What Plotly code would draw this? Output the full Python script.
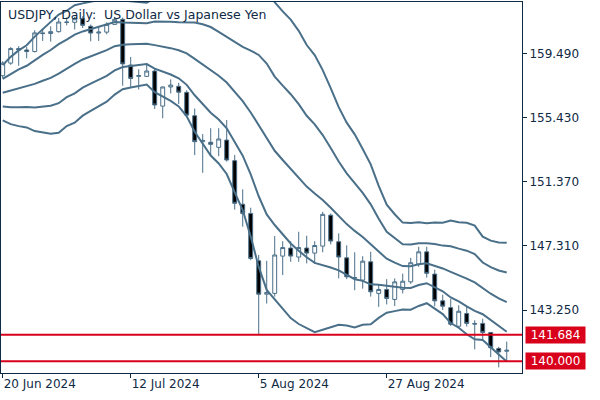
import numpy as np
import plotly.graph_objects as go

# ---- data (USDJPY daily) ----
dates = ["20 Jun 2024", "12 Jul 2024", "5 Aug 2024", "27 Aug 2024"]
date_idx = [0, 16, 32, 48]

# closes of the 19 sessions before 20 Jun 2024 (only feed the Bollinger bands)
prior_close = [156.98, 156.85, 157.18, 157.63, 156.80, 157.26, 156.10, 154.78, 156.10, 155.62,
               156.75, 157.05, 157.20, 156.69, 157.04, 157.39, 157.71, 157.86, 158.07]

opens = [158.07, 158.87, 159.79, 159.70, 159.60, 160.78, 160.74, 160.86, 161.47, 161.45,
         161.68, 161.20, 160.77, 160.83, 161.32, 161.64, 158.75, 158.03, 158.03, 158.37,
         156.15, 157.36, 157.40, 157.02, 155.54, 153.90, 153.86, 153.54, 154.00, 152.70,
         149.94, 149.36, 146.36, 144.25, 144.30, 146.66, 147.17, 146.60, 147.17, 146.85,
         147.29, 149.25, 147.57, 146.55, 145.30, 145.14, 146.30, 144.30, 144.55, 143.92,
         144.55, 145.03, 146.15, 146.93, 145.52, 143.83, 143.40, 142.22, 143.03, 142.40,
         142.40, 141.83, 140.81, 140.64]
highs = [158.99, 159.88, 159.94, 159.88, 160.95, 161.05, 161.20, 161.72, 161.75, 161.80,
         161.83, 161.31, 161.16, 161.45, 161.79, 161.75, 159.26, 158.48, 158.86, 158.50,
         157.38, 157.84, 157.63, 157.15, 156.00, 154.38, 154.75, 154.75, 155.27, 153.06,
         150.88, 149.72, 146.73, 146.36, 147.93, 147.60, 147.60, 148.20, 147.95, 147.60,
         149.46, 149.35, 148.10, 147.34, 146.90, 146.65, 146.93, 144.84, 145.20, 145.25,
         145.55, 146.55, 147.25, 147.25, 145.80, 144.22, 143.95, 143.55, 143.50, 142.60,
         142.70, 141.86, 140.92, 141.25]
lows = [157.90, 158.76, 158.70, 159.17, 159.55, 160.27, 160.23, 160.80, 161.26, 161.00,
        161.09, 160.25, 160.27, 160.69, 161.28, 157.44, 157.36, 157.20, 158.00, 155.97,
        155.38, 156.95, 156.28, 155.45, 153.05, 151.93, 153.05, 152.98, 152.64, 149.60,
        148.52, 146.40, 141.684, 143.66, 144.10, 145.46, 146.30, 146.30, 146.20, 146.17,
        146.90, 147.40, 145.25, 145.20, 144.50, 144.60, 144.10, 143.45, 143.60, 143.50,
        144.30, 144.90, 145.98, 145.30, 143.48, 143.25, 142.24, 142.12, 142.20, 140.76,
        141.40, 140.27, 139.62, 139.97]
closes = [158.87, 159.79, 159.70, 159.60, 160.78, 160.74, 160.86, 161.47, 161.45, 161.68,
          161.26, 160.77, 160.83, 161.32, 161.64, 158.82, 157.90, 158.08, 158.37, 156.22,
          157.36, 157.48, 157.03, 155.58, 153.90, 153.98, 153.73, 154.07, 152.74, 150.00,
          149.35, 146.51, 144.25, 144.36, 146.73, 147.20, 146.66, 147.20, 146.85, 147.33,
          149.30, 147.61, 146.60, 145.35, 145.27, 146.34, 144.40, 144.55, 143.98, 145.03,
          145.07, 146.24, 146.93, 145.57, 143.83, 143.49, 142.35, 143.17, 142.40, 142.36,
          141.83, 140.86, 140.60, 140.70]

levels = [141.684, 140.000]
ytick_vals = [143.250, 147.310, 151.370, 155.430, 159.490]
title_text = "USDJPY, Daily:  US Dollar vs Japanese Yen"

# ---- Bollinger bands (20, population std, +-1 and +-2) ----
period = 20
allc = np.array(prior_close + closes)
n = len(closes)
mid, sd = [], []
for i in range(n):
    w = allc[i: i + period]
    mid.append(w.mean())
    sd.append(w.std())
mid = np.array(mid)
sd = np.array(sd)
xs = np.arange(n)

NAVY = "#0f2a44"
STEEL = "#4a6f89"
RED = "#d8001a"
FONT = "DejaVu Sans"

fig = go.Figure()
for k in (2, 1, 0, -1, -2):
    fig.add_trace(go.Scatter(x=xs, y=mid + k * sd, mode="lines",
                             line=dict(color=STEEL, width=2), hoverinfo="skip",
                             showlegend=False))

fig.add_trace(go.Candlestick(
    x=xs, open=opens, high=highs, low=lows, close=closes,
    increasing=dict(line=dict(color=STEEL, width=1), fillcolor="white"),
    decreasing=dict(line=dict(color=STEEL, width=1), fillcolor="black"),
    whiskerwidth=0, showlegend=False))

for lv in levels:
    fig.add_hline(y=lv, line=dict(color=RED, width=2), layer="above")
    fig.add_annotation(x=1, xref="paper", y=lv, yref="y", xanchor="left", xshift=3,
                       text=f"{lv:.3f}", showarrow=False, bgcolor=RED,
                       font=dict(color="white", size=12, family=FONT),
                       width=56, height=13, borderpad=1.5, align="center")

fig.add_annotation(x=0, xref="paper", y=1, yref="paper", xanchor="left", yanchor="top",
                   xshift=5, yshift=-3, text=title_text, showarrow=False,
                   font=dict(color=NAVY, size=12.5, family=FONT))

fig.update_layout(
    width=600, height=400,
    margin=dict(l=1, r=78, t=2, b=27),
    paper_bgcolor="white", plot_bgcolor="white",
    font=dict(family=FONT, size=12, color=NAVY),
    showlegend=False, boxgap=0.3,
    xaxis=dict(range=[-0.2125, 64.91], showgrid=False, zeroline=False,
               showline=True, mirror=True, linecolor=NAVY, linewidth=1,
               ticks="outside", ticklen=4, tickcolor=NAVY,
               tickvals=date_idx, ticktext=dates, ticklabelposition="outside right",
               rangeslider=dict(visible=False), fixedrange=True),
    yaxis=dict(range=[139.264, 162.736], side="right", showgrid=False, zeroline=False,
               showline=True, mirror=True, linecolor=NAVY, linewidth=1,
               ticks="outside", ticklen=4, tickcolor=NAVY,
               tickvals=ytick_vals, ticktext=[f"{v:.3f}" for v in ytick_vals],
               fixedrange=True),
)

fig.write_html("out.html")
